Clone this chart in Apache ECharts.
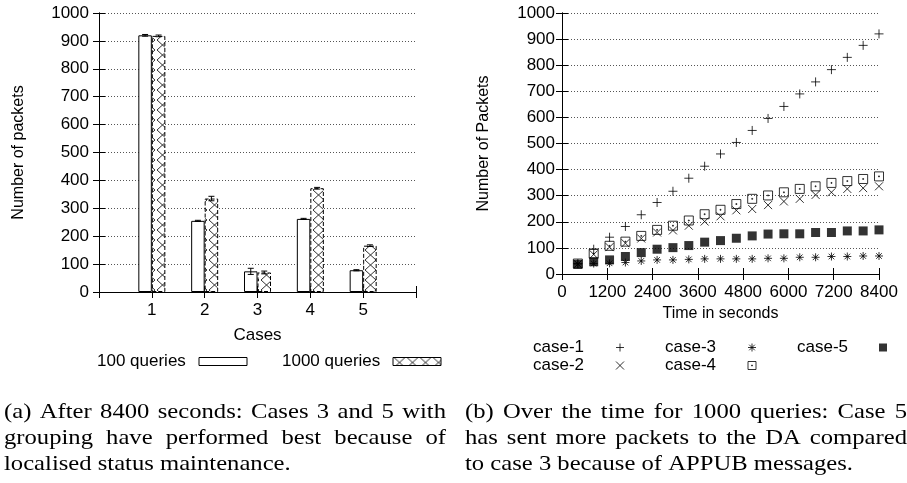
<!DOCTYPE html>
<html>
<head>
<meta charset="utf-8">
<script src="https://cdn.jsdelivr.net/npm/echarts@6/dist/echarts.min.js"></script>
<style>
  html, body { margin: 0; padding: 0; background: #fff; }
  #chart { width: 907px; height: 483px; }
</style>
</head>
<body>
<div id="chart"></div>
<script>
// ---------- data: (a) bars after 8400 s ----------
var cases = [1, 2, 3, 4, 5];
var q100 = [920, 255, 74, 262, 78];
var q1000 = [918, 335, 70, 372, 166];
var q100Err = [3, 2, 11, 2, 2];
var q1000Err = [3, 8, 5, 3, 3];

// ---------- data: (b) packets over time, 1000 queries ----------
var times = [420, 840, 1260, 1680, 2100, 2520, 2940, 3360, 3780, 4200,
             4620, 5040, 5460, 5880, 6300, 6720, 7140, 7560, 7980, 8400];
var case1 = [40, 95, 141, 182, 227, 274, 317, 367, 413, 460, 504, 550, 596, 642, 690, 736, 783, 830, 876, 920];
var case2 = [38, 75, 103, 118, 136, 159, 167, 185, 201, 221, 244, 249, 264, 278, 288, 303, 313, 326, 329, 336];
var case3 = [38, 40, 41, 44, 50, 54, 54, 56, 58, 58, 58, 58, 60, 60, 64, 64, 67, 67, 69, 69];
var case4 = [40, 78, 108, 124, 146, 169, 185, 205, 229, 246, 268, 288, 301, 313, 326, 336, 349, 356, 364, 374];
var case5 = [37, 47, 54, 67, 82, 95, 101, 109, 122, 128, 137, 146, 153, 154, 154, 159, 159, 165, 165, 169];

var captionA = ['(a) After 8400 seconds: Cases 3 and 5 with',
                'grouping have performed best because of',
                'localised status maintenance.'];
var captionB = ['(b) Over the time for 1000 queries: Case 5',
                'has sent more packets to the DA compared',
                'to case 3 because of APPUB messages.'];

(function () {
  var sans = '"Liberation Sans", Arial, sans-serif';
  var serif = '"Liberation Serif", serif';
  var ink = '#000';
  var fs = 17;
  var capSize = 22;
  var capStretch = 1.12;   // widen Times toward Computer Modern proportions

  // cross-hatch fill for the 1000-queries bars
  function hatch() {
    var c = document.createElement('canvas');
    c.width = 13; c.height = 10;
    var g = c.getContext('2d');
    g.fillStyle = '#fff';
    g.fillRect(0, 0, 13, 10);
    g.strokeStyle = '#333';
    g.lineWidth = 1;
    g.beginPath();
    g.moveTo(1, 0); g.lineTo(12, 10);
    g.moveTo(12, 0); g.lineTo(1, 10);
    g.stroke();
    return c;
  }
  var hatchFill = { image: hatch(), repeat: 'repeat' };

  var tickStyle = { show: true, inside: true, length: 6, lineStyle: { color: ink } };
  var lineStyle = { show: true, lineStyle: { color: ink, width: 1 } };
  var labelStyle = { color: ink, fontFamily: sans, fontSize: fs };
  var nameStyle = { color: ink, fontFamily: sans, fontSize: 16 };
  var gridLine = { show: true, lineStyle: { color: '#555', type: [1, 2], width: 1 } };
  var plain = function (v) { return String(v); };

  function mirror(pos, gi, min, max, interval) {
    return {
      type: 'value', position: pos, gridIndex: gi, min: min, max: max, interval: interval,
      axisLine: lineStyle, axisTick: tickStyle, axisLabel: { show: false }, splitLine: { show: false }
    };
  }

  var symPlus = 'path://M0,5L10,5M5,0L5,10';
  var symCross = 'path://M0,0L10,10M10,0L0,10';
  var symStar = 'path://M0,5L10,5M5,0L5,10M1.5,1.5L8.5,8.5M8.5,1.5L1.5,8.5';
  var symBoxDot = 'path://M0,0L10,0L10,10L0,10ZM4.5,4.5L5.5,4.5L5.5,5.5L4.5,5.5Z';
  var strokeOnly = { color: 'none', borderColor: ink, borderWidth: 1 };

  function pts(ys) { return times.map(function (t, i) { return [t, ys[i]]; }); }

  function errData(vals, errs, side) {
    return cases.map(function (c, i) { return [c, vals[i] - errs[i], vals[i] + errs[i], side]; });
  }
  function errBar(params, api) {
    var lo = api.coord([api.value(0), api.value(1)]);
    var hi = api.coord([api.value(0), api.value(2)]);
    var cx = lo[0] + api.value(3) * 6.75;
    var st = { stroke: ink, lineWidth: 1 };
    return {
      type: 'group',
      children: [
        { type: 'line', shape: { x1: cx, y1: lo[1], x2: cx, y2: hi[1] }, style: st },
        { type: 'line', shape: { x1: cx - 3, y1: lo[1], x2: cx + 3, y2: lo[1] }, style: st },
        { type: 'line', shape: { x1: cx - 3, y1: hi[1], x2: cx + 3, y2: hi[1] }, style: st }
      ]
    };
  }

  // justified caption lines
  var mctx = document.createElement('canvas').getContext('2d');
  function measure(text, font) { mctx.font = font; return mctx.measureText(text).width; }
  var capFont = capSize + 'px ' + serif;
  function capLine(text, x, y, width, justify) {
    var st = { font: capFont, fill: ink, verticalAlign: 'middle' };
    if (!justify) return [{ type: 'text', x: x, y: y, scaleX: capStretch, style: Object.assign({ text: text }, st) }];
    var words = text.split(' ');
    var total = 0;
    words.forEach(function (w) { total += measure(w, capFont) * capStretch; });
    var gap = (width - total) / (words.length - 1);
    var out = [], cx = x;
    words.forEach(function (w) {
      out.push({ type: 'text', x: cx, y: y, scaleX: capStretch, style: Object.assign({ text: w }, st) });
      cx += measure(w, capFont) * capStretch + gap;
    });
    return out;
  }
  var capY = [412, 438, 464];
  var graphics = [];
  captionA.forEach(function (t, i) { graphics = graphics.concat(capLine(t, 4, capY[i], 442, i < 2)); });
  captionB.forEach(function (t, i) { graphics = graphics.concat(capLine(t, 465, capY[i], 442, i < 2)); });

  // legend: text first, key to its right at a fixed x
  function legendItem(name, left, top, iconLeft, iw, ih) {
    var tw = measure(name, fs + 'px ' + sans);
    var pad = Math.max(0, iconLeft - left - 5 - tw);
    return {
      data: [name], left: left, top: top, align: 'right',
      icon: name.indexOf('queries') > 0 ? 'rect' : undefined,
      itemWidth: iw, itemHeight: ih, padding: 0, selectedMode: false,
      itemStyle: { borderWidth: 1 },
      textStyle: { color: ink, fontFamily: sans, fontSize: fs, padding: [0, pad, 0, 0] }
    };
  }

  var chart = echarts.init(document.getElementById('chart'), null, { renderer: 'canvas' });
  chart.setOption({
    animation: false,
    backgroundColor: '#fff',
    grid: [
      { left: 99, top: 13, width: 317, height: 279 },
      { left: 562, top: 13, width: 317, height: 261 }
    ],
    xAxis: [
      {
        type: 'value', gridIndex: 0, position: 'bottom', min: 0, max: 6, interval: 1,
        name: 'Cases', nameLocation: 'middle', nameGap: 35,
        nameTextStyle: labelStyle,
        axisLine: lineStyle, axisTick: tickStyle, splitLine: { show: false },
        axisLabel: Object.assign({ margin: 10, formatter: function (v) { return (v >= 1 && v <= 5) ? String(v) : ''; } }, labelStyle)
      },
      mirror('top', 0, 0, 6, 1),
      {
        type: 'value', gridIndex: 1, position: 'bottom', min: 0, max: 8400, interval: 1200,
        name: 'Time in seconds', nameLocation: 'middle', nameGap: 31,
        nameTextStyle: nameStyle,
        axisLine: lineStyle, axisTick: tickStyle, splitLine: { show: false },
        axisLabel: Object.assign({ margin: 10, formatter: plain }, labelStyle)
      },
      mirror('top', 1, 0, 8400, 1200)
    ],
    yAxis: [
      {
        type: 'value', gridIndex: 0, position: 'left', min: 0, max: 1000, interval: 100,
        name: 'Number of packets', nameLocation: 'middle', nameGap: 72, nameRotate: 90,
        nameTextStyle: nameStyle,
        axisLine: lineStyle, axisTick: tickStyle, splitLine: gridLine,
        axisLabel: Object.assign({ margin: 10, formatter: plain }, labelStyle)
      },
      mirror('right', 0, 0, 1000, 100),
      {
        type: 'value', gridIndex: 1, position: 'left', min: 0, max: 1000, interval: 100,
        name: 'Number of Packets', nameLocation: 'middle', nameGap: 70, nameRotate: 90,
        nameTextStyle: nameStyle,
        axisLine: lineStyle, axisTick: tickStyle, splitLine: gridLine,
        axisLabel: Object.assign({ margin: 7, formatter: plain }, labelStyle)
      },
      mirror('right', 1, 0, 1000, 100)
    ],
    legend: [
      legendItem('100 queries', 97, 353, 199, 48, 8),
      legendItem('1000 queries', 282, 353, 393, 48, 8),
      legendItem('case-1', 533, 339, 616, 8, 8),
      legendItem('case-2', 533, 357, 616, 8, 8),
      legendItem('case-3', 665, 339, 748, 8, 8),
      legendItem('case-4', 665, 357, 748, 8, 8),
      legendItem('case-5', 797, 339, 879, 8, 8)
    ],
    graphic: graphics,
    series: [
      {
        name: '100 queries', type: 'bar', xAxisIndex: 0, yAxisIndex: 0,
        barWidth: 13.5, barGap: '0%', silent: true,
        itemStyle: { color: '#fff', borderColor: ink, borderWidth: 1 },
        data: cases.map(function (c, i) { return [c, q100[i]]; })
      },
      {
        name: '1000 queries', type: 'bar', xAxisIndex: 0, yAxisIndex: 0,
        barWidth: 13.5, barGap: '0%', silent: true,
        itemStyle: { color: hatchFill, borderColor: ink, borderWidth: 1, borderType: [4, 2] },
        data: cases.map(function (c, i) { return [c, q1000[i]]; })
      },
      { type: 'custom', xAxisIndex: 0, yAxisIndex: 0, silent: true, renderItem: errBar, data: errData(q100, q100Err, -1), z: 5 },
      { type: 'custom', xAxisIndex: 0, yAxisIndex: 0, silent: true, renderItem: errBar, data: errData(q1000, q1000Err, 1), z: 5 },
      { name: 'case-1', type: 'scatter', xAxisIndex: 2, yAxisIndex: 2, silent: true, symbol: symPlus, symbolSize: 9, itemStyle: strokeOnly, data: pts(case1) },
      { name: 'case-2', type: 'scatter', xAxisIndex: 2, yAxisIndex: 2, silent: true, symbol: symCross, symbolSize: 8, itemStyle: strokeOnly, data: pts(case2) },
      { name: 'case-3', type: 'scatter', xAxisIndex: 2, yAxisIndex: 2, silent: true, symbol: symStar, symbolSize: 8, itemStyle: strokeOnly, data: pts(case3) },
      { name: 'case-4', type: 'scatter', xAxisIndex: 2, yAxisIndex: 2, silent: true, symbol: symBoxDot, symbolSize: 9, itemStyle: strokeOnly, data: pts(case4) },
      { name: 'case-5', type: 'scatter', xAxisIndex: 2, yAxisIndex: 2, silent: true, symbol: 'rect', symbolSize: 9, itemStyle: { color: ink }, data: pts(case5) }
    ]
  });
})();
</script>
</body>
</html>
